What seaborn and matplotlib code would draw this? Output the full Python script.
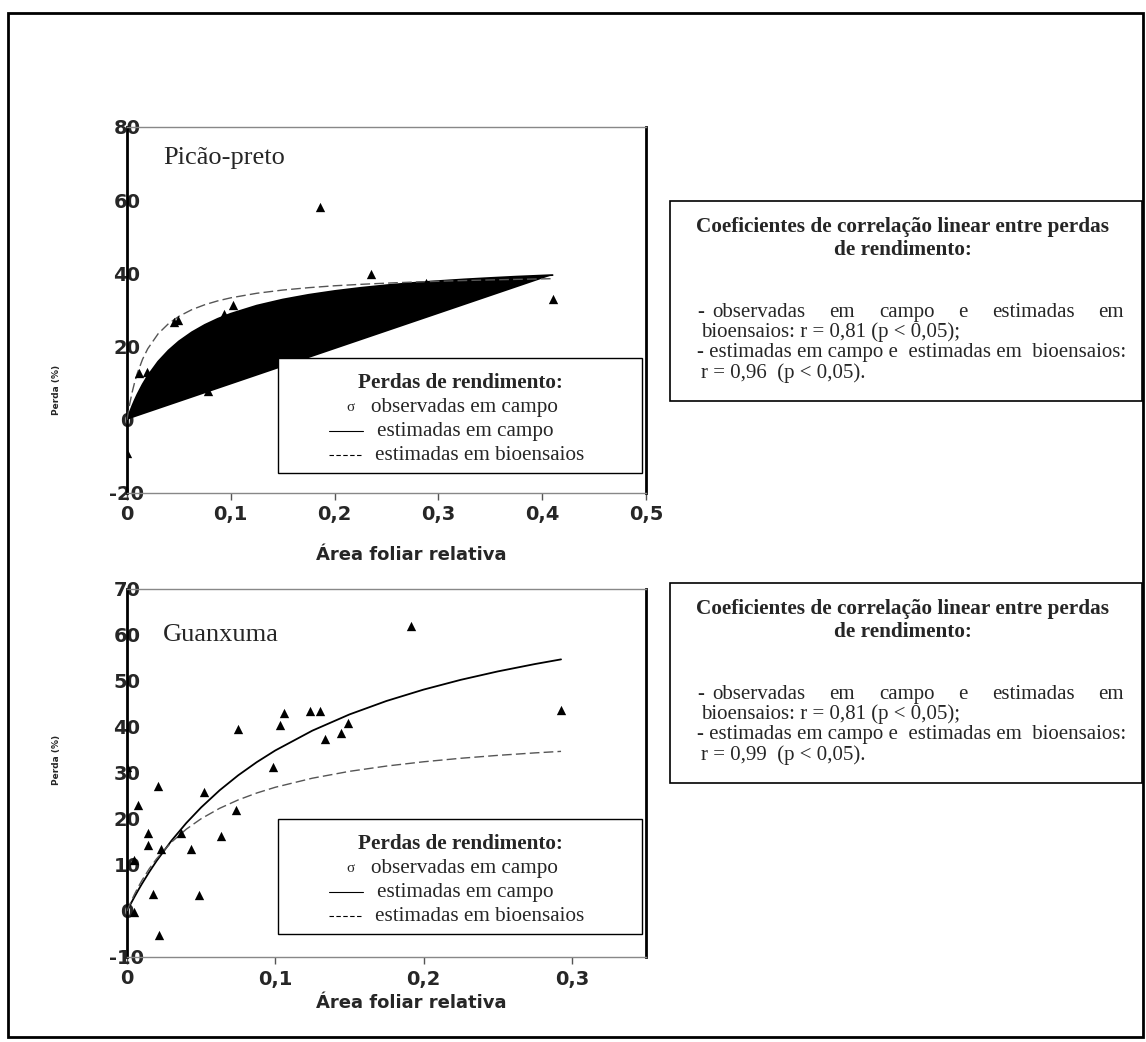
import matplotlib
matplotlib.use("Agg")
import matplotlib.pyplot as plt
import seaborn as sns
from matplotlib.patches import Rectangle
from matplotlib.lines import Line2D

# ---------------- data ----------------
# Picão-preto (top panel)
picao_obs_x = [0.0, 0.012, 0.019, 0.045, 0.049, 0.078, 0.093, 0.102, 0.186, 0.235, 0.288, 0.41]
picao_obs_y = [-9.0, 12.7, 13.1, 26.7, 27.4, 8.0, 29.0, 31.3, 58.2, 39.7, 37.5, 33.1]
picao_curve_x = [0, 0.0025, 0.005, 0.0075, 0.01, 0.015, 0.02, 0.03, 0.04, 0.05, 0.0625, 0.075,
                 0.0875, 0.1, 0.125, 0.15, 0.175, 0.2, 0.225, 0.25, 0.275, 0.3, 0.325, 0.35, 0.375, 0.41]
picao_campo_y = [0, 1.96, 3.76, 5.42, 6.95, 9.67, 12.03, 15.91, 18.96, 21.44, 23.93, 25.95,
                 27.61, 28.99, 31.20, 32.86, 34.16, 35.20, 36.06, 36.78, 37.39, 37.91, 38.37, 38.76, 39.12, 39.54]
picao_bio_y = [0, 4.18, 7.57, 10.39, 12.77, 16.55, 19.42, 23.51, 26.28, 28.27, 30.10, 31.45,
               32.50, 33.33, 34.57, 35.45, 36.10, 36.62, 37.01, 37.34, 37.62, 37.85, 38.05, 38.22, 38.37, 38.56]
picao_xticks = [0, 0.1, 0.2, 0.3, 0.4, 0.5]
picao_xlabels = ["0", "0,1", "0,2", "0,3", "0,4", "0,5"]
picao_yticks = [-20, 0, 20, 40, 60, 80]

# Guanxuma (bottom panel)
guanx_obs_x = [0.0, 0.0044, 0.0044, 0.0074, 0.014, 0.0142, 0.0172, 0.0209, 0.0214, 0.0226,
               0.0363, 0.0432, 0.0486, 0.052, 0.0633, 0.0732, 0.0749, 0.0982, 0.103, 0.106,
               0.1235, 0.130, 0.1333, 0.1444, 0.149, 0.1915, 0.2927]
guanx_obs_y = [31.3, 11.1, -0.3, 23.1, 14.4, 16.9, 3.8, 27.1, -5.2, 13.5,
               16.9, 13.5, 3.5, 25.9, 16.2, 22.0, 39.5, 31.3, 40.5, 43.1,
               43.4, 43.4, 37.3, 38.8, 40.9, 62.0, 43.8]
guanx_curve_x = [0, 0.0025, 0.005, 0.0075, 0.01, 0.015, 0.02, 0.03, 0.04, 0.05, 0.0625, 0.075,
                 0.0875, 0.1, 0.125, 0.15, 0.175, 0.2, 0.225, 0.25, 0.275, 0.2927]
guanx_campo_y = [0, 1.56, 3.05, 4.49, 5.87, 8.48, 10.91, 15.29, 19.13, 22.52, 26.25, 29.50,
                 32.36, 34.90, 39.21, 42.73, 45.66, 48.13, 50.25, 52.08, 53.68, 54.70]
guanx_bio_y = [0, 1.88, 3.59, 5.16, 6.61, 9.17, 11.37, 14.97, 17.79, 20.06, 22.33, 24.15,
               25.65, 26.90, 28.87, 30.36, 31.51, 32.44, 33.20, 33.83, 34.37, 34.70]
guanx_xticks = [0, 0.1, 0.2, 0.3]
guanx_xlabels = ["0", "0,1", "0,2", "0,3"]
guanx_yticks = [-10, 0, 10, 20, 30, 40, 50, 60, 70]

legend_title = "Perdas de rendimento:"
legend_items = ["observadas em campo", "estimadas em campo", "estimadas em bioensaios"]
box_title = ["Coeficientes de correlação linear entre perdas", "de rendimento:"]
r_values = ["0,81", "0,96", "0,99"]

# ---------------- figure ----------------
W, H, DPI = 1146, 1042, 100
sns.set_style("white")
plt.rcParams["font.family"] = ["Liberation Serif", "DejaVu Serif"]

fig = plt.figure(figsize=(W / DPI, H / DPI), dpi=DPI)
FS = 15.0      # body text of the right-hand boxes
FS_LEG = 15.2  # legend text
FS_TIT = 15.3  # bold box titles


def fx(px):
    return px / W


def fy(py):
    return 1 - py / H


def make_axes(top, bottom, left=127, right=646):
    return fig.add_axes([fx(left), fy(bottom), (right - left) / W, (bottom - top) / H])


def draw_panel(ax, obs_x, obs_y, cx, campo, bio, xlim, xticks, xlabels, ylim, yticks, fill):
    if fill:
        ax.fill(cx, campo, color="black", lw=0, zorder=2)
    sns.lineplot(x=cx, y=campo, color="black", lw=1.3, ax=ax, sort=False, estimator=None, zorder=3)
    sns.lineplot(x=cx, y=bio, color="#555555", lw=1.0, ax=ax, sort=False, estimator=None,
                 linestyle=(0, (7, 3)), zorder=4)
    sns.scatterplot(x=obs_x, y=obs_y, marker="^", color="black", s=45, linewidth=0, ax=ax, zorder=5)
    ax.set_xlim(*xlim)
    ax.set_ylim(*ylim)
    ax.set_xticks(xticks)
    ax.set_xticklabels(xlabels, fontfamily="DejaVu Sans", fontweight="bold", fontsize=14)
    ax.set_yticks(yticks)
    ax.set_yticklabels([str(v) for v in yticks], fontfamily="DejaVu Sans", fontweight="bold", fontsize=14)
    ax.tick_params(axis="x", bottom=True, direction="out", length=5, width=1, color="#555555", pad=4)
    ax.tick_params(axis="y", left=True, length=0, pad=0)
    for lab in ax.get_yticklabels():
        lab.set_horizontalalignment("center")
    ax.set_xlabel("")
    ax.set_ylabel("")
    ax.grid(False)
    for s in ["top", "bottom"]:
        ax.spines[s].set_color("#888888")
        ax.spines[s].set_linewidth(1)
    for s in ["left", "right"]:
        ax.spines[s].set_color("black")
        ax.spines[s].set_linewidth(2)


ax1 = make_axes(127, 493)
draw_panel(ax1, picao_obs_x, picao_obs_y, picao_curve_x, picao_campo_y, picao_bio_y,
           (0, 0.5), picao_xticks, picao_xlabels, (-20, 80), picao_yticks, fill=True)
ax2 = make_axes(589, 957)
draw_panel(ax2, guanx_obs_x, guanx_obs_y, guanx_curve_x, guanx_campo_y, guanx_bio_y,
           (0, 0.35), guanx_xticks, guanx_xlabels, (-10, 70), guanx_yticks, fill=False)

# panel names
fig.text(fx(163), fy(158), "Picão-preto", fontsize=19, ha="left", va="center")
fig.text(fx(163), fy(635), "Guanxuma", fontsize=19, ha="left", va="center")

# axis titles
for py in (555, 1003):
    fig.text(fx(411), fy(py), "Área foliar relativa", fontsize=13, fontweight="bold",
             family="DejaVu Sans", ha="center", va="center")
for py in (390, 760):
    fig.text(fx(57), fy(py), "Perda (%)", fontsize=6.5, fontweight="bold", family="DejaVu Sans",
             rotation=90, ha="center", va="center")


def btext(px, py, s, **kw):
    """text whose visual centre line is at py (placed on a common baseline)"""
    kw.setdefault("fontsize", FS)
    return fig.text(fx(px), fy(py + 5), s, va="baseline", **kw)


def legend_box(y0):
    fig.add_artist(Rectangle((fx(278), fy(y0 + 115)), (642 - 278) / W, 115 / H,
                             transform=fig.transFigure, facecolor="white", edgecolor="black",
                             lw=1, zorder=10))
    btext(460, y0 + 25, legend_title, fontsize=FS_LEG, fontweight="bold", ha="center", zorder=11)
    btext(350, y0 + 48, "σ", fontsize=11, ha="center", zorder=11)
    btext(371, y0 + 49, legend_items[0], fontsize=FS_LEG, ha="left", zorder=11)
    fig.add_artist(Line2D([fx(329), fx(363)], [fy(y0 + 73), fy(y0 + 73)], color="black", lw=0.8,
                          transform=fig.transFigure, zorder=11))
    btext(377, y0 + 73, legend_items[1], fontsize=FS_LEG, ha="left", zorder=11)
    fig.add_artist(Line2D([fx(329), fx(361)], [fy(y0 + 97), fy(y0 + 97)], color="black", lw=0.8,
                          linestyle=(0, (4, 2.2)), transform=fig.transFigure, zorder=11))
    btext(375, y0 + 97, legend_items[2], fontsize=FS_LEG, ha="left", zorder=11)


legend_box(358)
legend_box(819)

pending = []


def justify(words, x0, x1, py):
    texts = [btext(x0, py, w, ha="left") for w in words]
    pending.append((texts, x0, x1))


def text_box(y0, r_est):
    fig.add_artist(Rectangle((fx(670), fy(y0 + 200)), (1142 - 670) / W, 200 / H,
                             transform=fig.transFigure, fill=False, edgecolor="black", lw=1.2))
    btext(903, y0 + 26, box_title[0], fontsize=FS_TIT, fontweight="bold", ha="center")
    btext(903, y0 + 49, box_title[1], fontsize=FS_TIT, fontweight="bold", ha="center")
    btext(697, y0 + 111, "-", ha="left")
    justify(["observadas", "em", "campo", "e", "estimadas", "em"], 712, 1124, y0 + 111)
    btext(701, y0 + 131, "bioensaios: r = " + r_values[0] + " (p < 0,05);", ha="left")
    btext(697, y0 + 151, "- estimadas em campo e  estimadas em  bioensaios:", ha="left")
    btext(701, y0 + 172, "r = " + r_est + "  (p < 0,05).", ha="left")


text_box(201, r_values[1])
text_box(583, r_values[2])

# outer frame
fig.add_artist(Rectangle((fx(8), fy(1037)), (1143 - 8) / W, (1037 - 13) / H,
                         transform=fig.transFigure, fill=False, edgecolor="black", lw=2))

# apply justification
fig.canvas.draw()
renderer = fig.canvas.get_renderer()
for texts, x0, x1 in pending:
    widths = [t.get_window_extent(renderer).width for t in texts]
    gap = (x1 - x0 - sum(widths)) / (len(texts) - 1)
    x = x0
    for t, w in zip(texts, widths):
        t.set_x(fx(x))
        x += w + gap

fig.savefig("out.png", dpi=DPI)
